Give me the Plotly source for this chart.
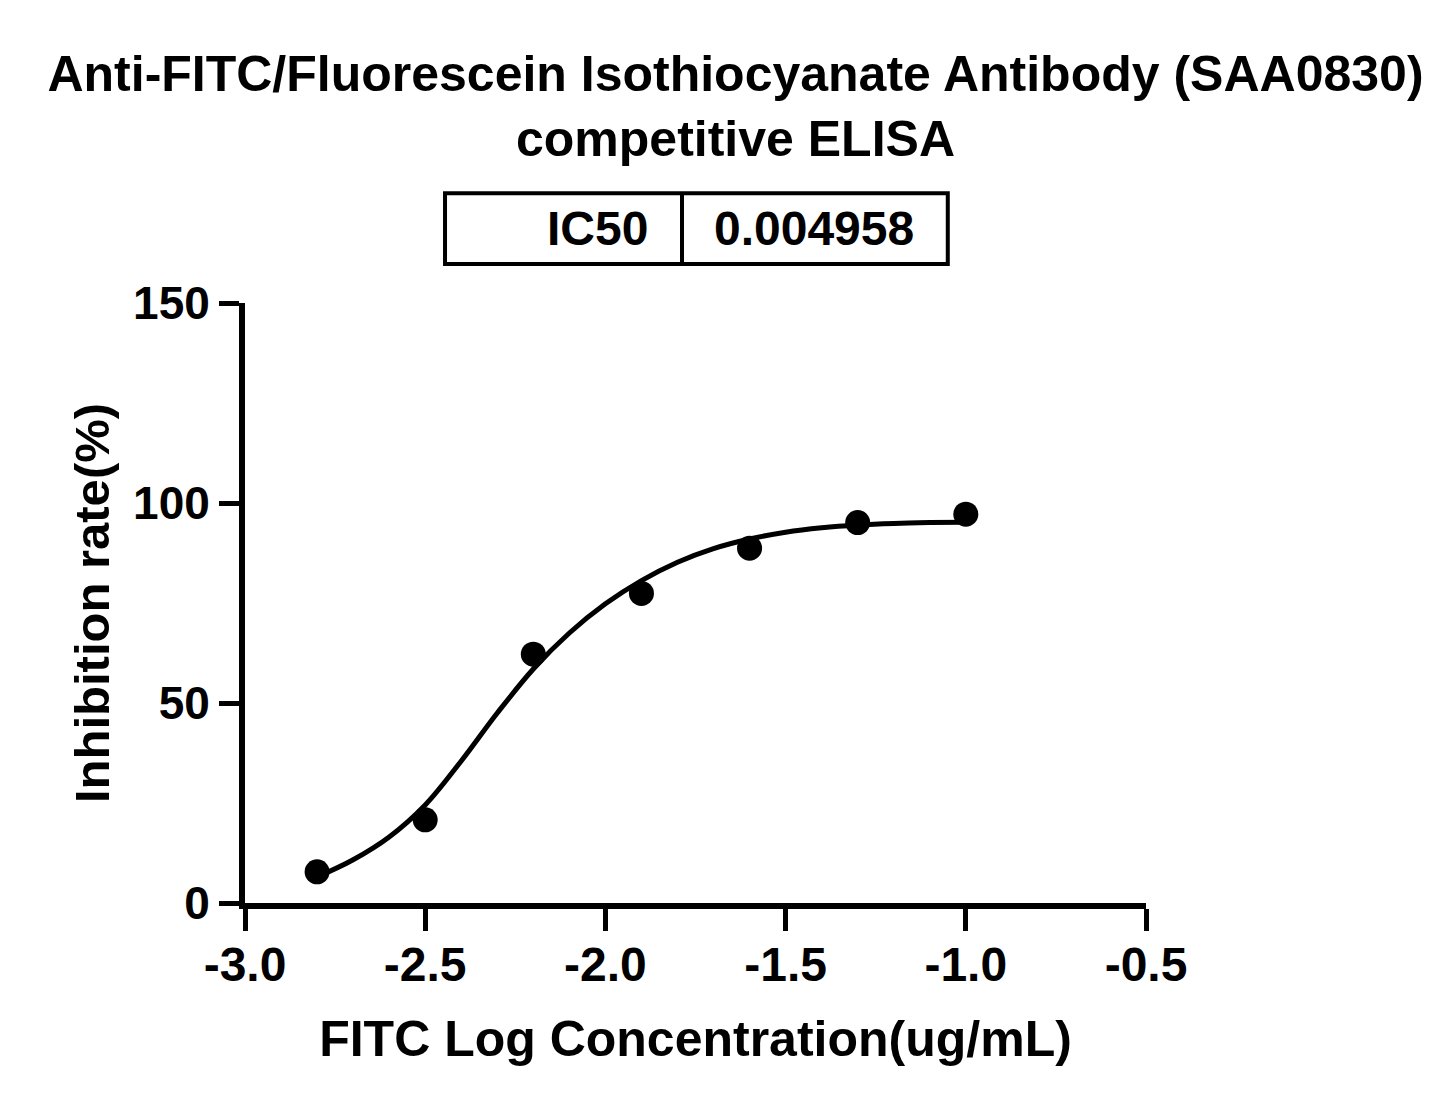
"""Competitive ELISA inhibition curve for the Anti-FITC antibody (SAA0830)."""
from plotly import graph_objects as go

# measured points (log concentration vs inhibition %)
log_conc = [-2.8, -2.5, -2.2, -1.9, -1.6, -1.3, -1.0]
inhibition = [7.8, 20.8, 62.2, 77.4, 88.7, 95.1, 97.2]

# fitted curve
curve_x = [-2.8, -2.7, -2.6, -2.5, -2.4, -2.3, -2.2, -2.1, -2.0, -1.9,
           -1.8, -1.7, -1.6, -1.5, -1.4, -1.3, -1.2, -1.1, -1.0]
curve_y = [6.5, 10.8, 16.5, 24.5, 35.5, 47.5, 58.5, 67.5, 74.8, 80.6,
           85.2, 88.6, 91.0, 92.7, 93.8, 94.5, 94.9, 95.1, 95.2]

x_ticks = [-3.0, -2.5, -2.0, -1.5, -1.0, -0.5]
y_ticks = [0, 50, 100, 150]

ic50_label = "IC50"
ic50_value = "0.004958"

FONT = "Liberation Sans, Arial, sans-serif"
BLACK = "#000000"

fig = go.Figure()
fig.add_trace(
    go.Scatter(
        x=curve_x,
        y=curve_y,
        mode="lines",
        line={"color": BLACK, "width": 5, "shape": "spline"},
        hoverinfo="skip",
    )
)
fig.add_trace(
    go.Scatter(
        x=log_conc,
        y=inhibition,
        mode="markers",
        marker={"color": BLACK, "size": 25},
    )
)

fig.update_layout(
    width=1455,
    height=1110,
    margin={"l": 237, "r": 317, "t": 295, "b": 215},
    paper_bgcolor="white",
    plot_bgcolor="white",
    showlegend=False,
    font={"family": FONT, "color": BLACK},
    title={
        "text": "Anti-FITC/Fluorescein Isothiocyanate Antibody (SAA0830)<br>competitive ELISA",
        "x": 0.5,
        "xanchor": "center",
        "y": 0.925,
        "yanchor": "top",
        "font": {"family": FONT, "size": 50, "weight": 700, "color": BLACK},
    },
    xaxis={
        "range": [-3.0, -0.5],
        "tickvals": x_ticks,
        "ticktext": [f"{v:.1f}" for v in x_ticks],
        "showgrid": False,
        "zeroline": False,
        "showline": True,
        "linecolor": BLACK,
        "linewidth": 6,
        "ticks": "outside",
        "ticklen": 22,
        "tickwidth": 5,
        "tickcolor": BLACK,
        "ticklabelstandoff": -8,
        "tickfont": {"family": FONT, "size": 48, "weight": 700},
        "title": {
            "text": "FITC Log Concentration(ug/mL)",
            "font": {"family": FONT, "size": 50, "weight": 700},
            "standoff": 33,
        },
    },
    yaxis={
        "range": [0, 150],
        "tickvals": y_ticks,
        "showgrid": False,
        "zeroline": False,
        "showline": True,
        "linecolor": BLACK,
        "linewidth": 6,
        "ticks": "outside",
        "ticklen": 20,
        "tickwidth": 5,
        "tickcolor": BLACK,
        "ticklabelstandoff": 0,
        "tickfont": {"family": FONT, "size": 46, "weight": 700},
        "title": {
            "text": "Inhibition rate(%)",
            "font": {"family": FONT, "size": 49, "weight": 700},
            "standoff": 10,
        },
    },
)

# IC50 results box above the plot
box = {"x0": 0.222, "x1": 0.780, "y0": 1.065, "y1": 1.183, "mid": 0.485}
fig.add_shape(
    type="rect", xref="paper", yref="paper",
    x0=box["x0"], x1=box["x1"], y0=box["y0"], y1=box["y1"],
    line={"color": BLACK, "width": 4},
)
fig.add_shape(
    type="line", xref="paper", yref="paper",
    x0=box["mid"], x1=box["mid"], y0=box["y0"], y1=box["y1"],
    line={"color": BLACK, "width": 4},
)
fig.add_annotation(
    text=ic50_label, xref="paper", yref="paper",
    x=box["mid"] - 0.035, y=(box["y0"] + box["y1"]) / 2,
    xanchor="right", yanchor="middle", showarrow=False,
    font={"family": FONT, "size": 48, "weight": 700, "color": BLACK},
)
fig.add_annotation(
    text=ic50_value, xref="paper", yref="paper",
    x=box["mid"] + 0.033, y=(box["y0"] + box["y1"]) / 2,
    xanchor="left", yanchor="middle", showarrow=False,
    font={"family": FONT, "size": 48, "weight": 700, "color": BLACK},
)

fig.write_html("out.html")
